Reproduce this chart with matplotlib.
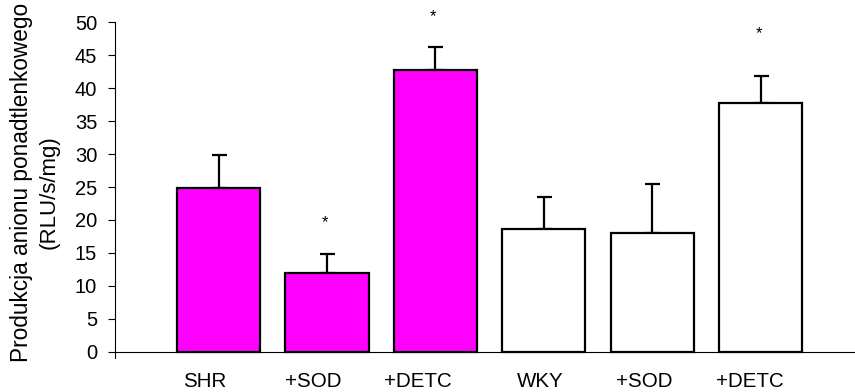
import matplotlib
matplotlib.use("Agg")
import matplotlib.pyplot as plt
import numpy as np

plt.rcParams['font.family'] = ['Liberation Sans', 'DejaVu Sans']

categories = ["SHR", "+SOD", "+DETC", "WKY", "+SOD", "+DETC"]
means = [24.8, 12.0, 42.7, 18.6, 18.0, 37.7]
sem = [5.0, 2.8, 3.5, 4.9, 7.4, 4.1]
colors = ["#FF00FF", "#FF00FF", "#FF00FF", "white", "white", "white"]
significant = [False, True, True, False, False, True]
star_y = [None, 19.6, 50.8, None, None, 48.3]
label_shift = [-0.13, -0.125, -0.159, -0.035, -0.071, -0.101]

fig = plt.figure(figsize=(8.55, 3.92), dpi=100)
ax = fig.add_axes([114.5 / 855, 33.7 / 392, (854 - 114.5) / 855, 336 / 392])

# spine placement first: moving a spine resets the tick objects
for s in ["top", "right"]:
    ax.spines[s].set_visible(False)
ax.spines["bottom"].set_position(("data", 0))
ax.spines["left"].set_bounds(-1.0, 50)
for s in ["left", "bottom"]:
    ax.spines[s].set_linewidth(0.8)

x = np.arange(len(categories))
ax.bar(x, means, width=0.767, color=colors, edgecolor="black", linewidth=1.6, zorder=3)
ax.errorbar(x, means, yerr=[np.zeros(len(sem)), sem], fmt="none", ecolor="black",
            elinewidth=1.6, capsize=5.4, capthick=1.6, zorder=2)

for xi, sig, sy in zip(x, significant, star_y):
    if sig:
        ax.text(xi - 0.02, sy, "*", ha="center", va="center", fontsize=12, clip_on=False)

ax.set_xlim(-0.96, 5.86)
ax.set_ylim(-1.0, 50)
ax.set_yticks(np.arange(0, 51, 5))
ax.set_yticklabels([str(v) for v in range(0, 51, 5)])
ax.tick_params(axis="y", direction="out", length=5, width=0.8, pad=7.5, labelsize=14.5)

ax.set_xticks(x + np.array(label_shift))
ax.set_xticklabels(categories)
ax.tick_params(axis="x", length=0, pad=14.5, labelsize=14.8)

# two-line axis title, first line runs past the top edge
fig.text(22 / 855, (392 - 362) / 392, "Produkcja anionu ponadtlenkowego",
         rotation=90, ha="center", va="bottom", fontsize=16.3)
fig.text(49.5 / 855, (392 - 192.5) / 392, "(RLU/s/mg)",
         rotation=90, ha="center", va="center", fontsize=16)

fig.savefig("out.png", dpi=100)
